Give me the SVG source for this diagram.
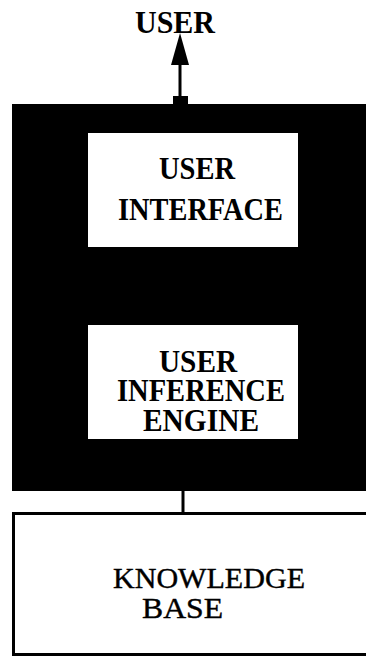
<svg xmlns="http://www.w3.org/2000/svg" width="366" height="658" viewBox="0 0 366 658">
<style>
.b{font-family:"Liberation Serif","Times New Roman",serif;font-weight:bold;font-size:32px;fill:#000}
.r{font-family:"Liberation Serif","Times New Roman",serif;font-size:30px;fill:#000;stroke:#000;stroke-width:0.4}
.w{fill:#fff}
</style>
<rect width="366" height="658" fill="#fff"/>
<g id="system">
<rect x="12" y="104" width="360" height="387" fill="#000"/>
</g>
<g id="user">
<text class="b" x="135" y="33" textLength="80" lengthAdjust="spacingAndGlyphs">USER</text>
</g>
<g id="user-interface">
<rect class="w" x="88" y="133" width="210" height="114"/>
<text class="b" x="159" y="179" textLength="76" lengthAdjust="spacingAndGlyphs">USER</text>
<text class="b" x="118" y="220" textLength="165" lengthAdjust="spacingAndGlyphs">INTERFACE</text>
</g>
<g id="inference-engine">
<rect class="w" x="88" y="325" width="210" height="114"/>
<text class="b" x="159" y="372" textLength="78" lengthAdjust="spacingAndGlyphs">USER</text>
<text class="b" x="117" y="401" textLength="168" lengthAdjust="spacingAndGlyphs">INFERENCE</text>
<text class="b" x="143" y="431" textLength="116" lengthAdjust="spacingAndGlyphs">ENGINE</text>
</g>
<g id="knowledge-base">
<rect x="13.5" y="513.5" width="360" height="141" fill="#fff" stroke="#000" stroke-width="3"/>
<text class="r" x="113" y="588" textLength="192" lengthAdjust="spacingAndGlyphs">KNOWLEDGE</text>
<text class="r" x="142" y="618" textLength="81" lengthAdjust="spacingAndGlyphs">BASE</text>
</g>
<g id="connectors">
<line x1="180" y1="60" x2="180" y2="104" stroke="#000" stroke-width="3"/>
<polygon points="180,33 171,65 189,65" fill="#000"/>
<rect x="173" y="96" width="15" height="9" fill="#000"/>
<line x1="183" y1="491" x2="183" y2="513" stroke="#000" stroke-width="3"/>
</g>
</svg>
